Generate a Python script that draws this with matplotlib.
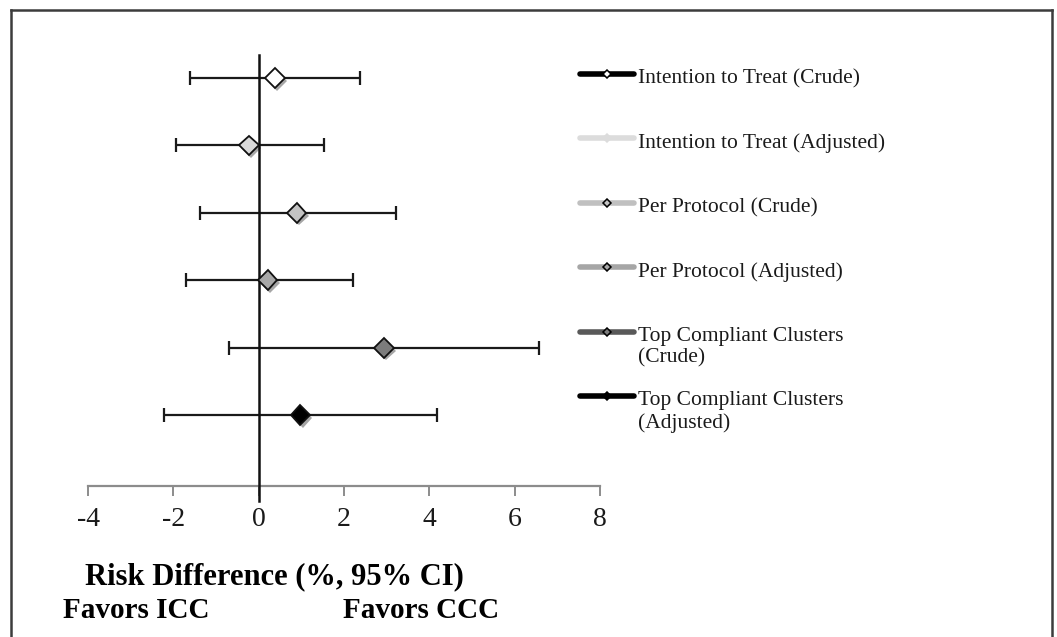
import matplotlib
matplotlib.use('Agg')
import matplotlib.pyplot as plt
import matplotlib.patheffects as pe
from matplotlib.lines import Line2D

plt.rcParams['font.family'] = ['Liberation Serif', 'DejaVu Serif']

# data, top row first
labels = ['Intention to Treat (Crude)',
          'Intention to Treat (Adjusted)',
          'Per Protocol (Crude)',
          'Per Protocol (Adjusted)',
          'Top Compliant Clusters\n(Crude)',
          'Top Compliant Clusters\n(Adjusted)']
rd = [0.39, -0.23, 0.89, 0.21, 2.93, 0.98]
ci_low = [-1.62, -1.94, -1.38, -1.71, -0.70, -2.22]
ci_high = [2.37, 1.52, 3.21, 2.20, 6.56, 4.19]
face_colors = ['white', '#d9d9d9', '#c3c3c3', '#a8a8a8', '#7c7c7c', 'black']
legend_colors = ['black', '#dcdcdc', '#c0c0c0', '#a6a6a6', '#595959', 'black']
xticks = [-4, -2, 0, 2, 4, 6, 8]

fig = plt.figure(figsize=(10.57, 6.37), dpi=100)
ax = fig.add_axes([88 / 1057, 151 / 637, 512 / 1057, 431 / 637])

n = len(rd)
ys = list(range(n, 0, -1))
shadow = [pe.withSimplePatchShadow(offset=(1.5, -2), shadow_rgbFace='black', alpha=0.35)]

for i in range(n):
    ax.errorbar(rd[i], ys[i], xerr=[[rd[i] - ci_low[i]], [ci_high[i] - rd[i]]],
                fmt='none', ecolor='#1a1a1a', elinewidth=1.6, capsize=4.7,
                capthick=1.6, zorder=2)
    ax.plot(rd[i], ys[i], marker='D', markersize=10, markerfacecolor=face_colors[i],
            markeredgecolor='#111111', markeredgewidth=1.3, linestyle='none',
            zorder=4, path_effects=shadow)

ax.axvline(0, ymin=-0.035, ymax=1, color='#111111', lw=1.8, clip_on=False, zorder=3)

ax.set_xlim(-4, 8)
ax.set_ylim(-0.05, 6.34)
ax.set_xticks(xticks)
ax.set_xticklabels([str(t) for t in xticks])
ax.set_yticks([])
for s in ['left', 'right', 'top']:
    ax.spines[s].set_visible(False)
ax.spines['bottom'].set_color('#8c8c8c')
ax.spines['bottom'].set_linewidth(1.6)
ax.tick_params(axis='x', direction='out', length=7, width=1.4, color='#8c8c8c',
               labelsize=20, pad=8, labelcolor='#1a1a1a')

fig.text(85 / 1057, 1 - 577 / 637, 'Risk Difference (%, 95% CI)', fontsize=22,
         fontweight='bold', va='center', ha='left')
fig.text(63 / 1057, 1 - 610 / 637, 'Favors ICC', fontsize=21, fontweight='bold',
         va='center', ha='left')
fig.text(343 / 1057, 1 - 610 / 637, 'Favors CCC', fontsize=21, fontweight='bold',
         va='center', ha='left')

# legend drawn by hand so the handle sits on the first text line
for i in range(n):
    yy = 1 - (74 + i * 64.4) / 637
    edge = '#dcdcdc' if i == 1 else 'black'
    fig.add_artist(Line2D([580 / 1057, 634 / 1057], [yy, yy], transform=fig.transFigure,
                          color=legend_colors[i], lw=4, solid_capstyle='round', zorder=3))
    fig.add_artist(Line2D([607 / 1057], [yy], transform=fig.transFigure,
                          marker='D', markersize=4.5,
                          markerfacecolor=face_colors[i] if i != 1 else '#dcdcdc',
                          markeredgecolor=edge, markeredgewidth=1.1, linestyle='none', zorder=4))
    fig.text(638 / 1057, yy + 5 / 637, labels[i], fontsize=15.5, va='top', ha='left',
             color='#1a1a1a', linespacing=1.2)

# frame around the picture (no bottom edge)
for xs, yv in [([11 / 1057, 11 / 1057], [0, 1 - 10 / 637]),
               ([11 / 1057, 1052 / 1057], [1 - 10 / 637, 1 - 10 / 637]),
               ([1052 / 1057, 1052 / 1057], [1 - 10 / 637, 0])]:
    fig.add_artist(Line2D(xs, yv, transform=fig.transFigure, color='#3c3c3c', lw=1.8))

fig.savefig('out.png', dpi=100)
